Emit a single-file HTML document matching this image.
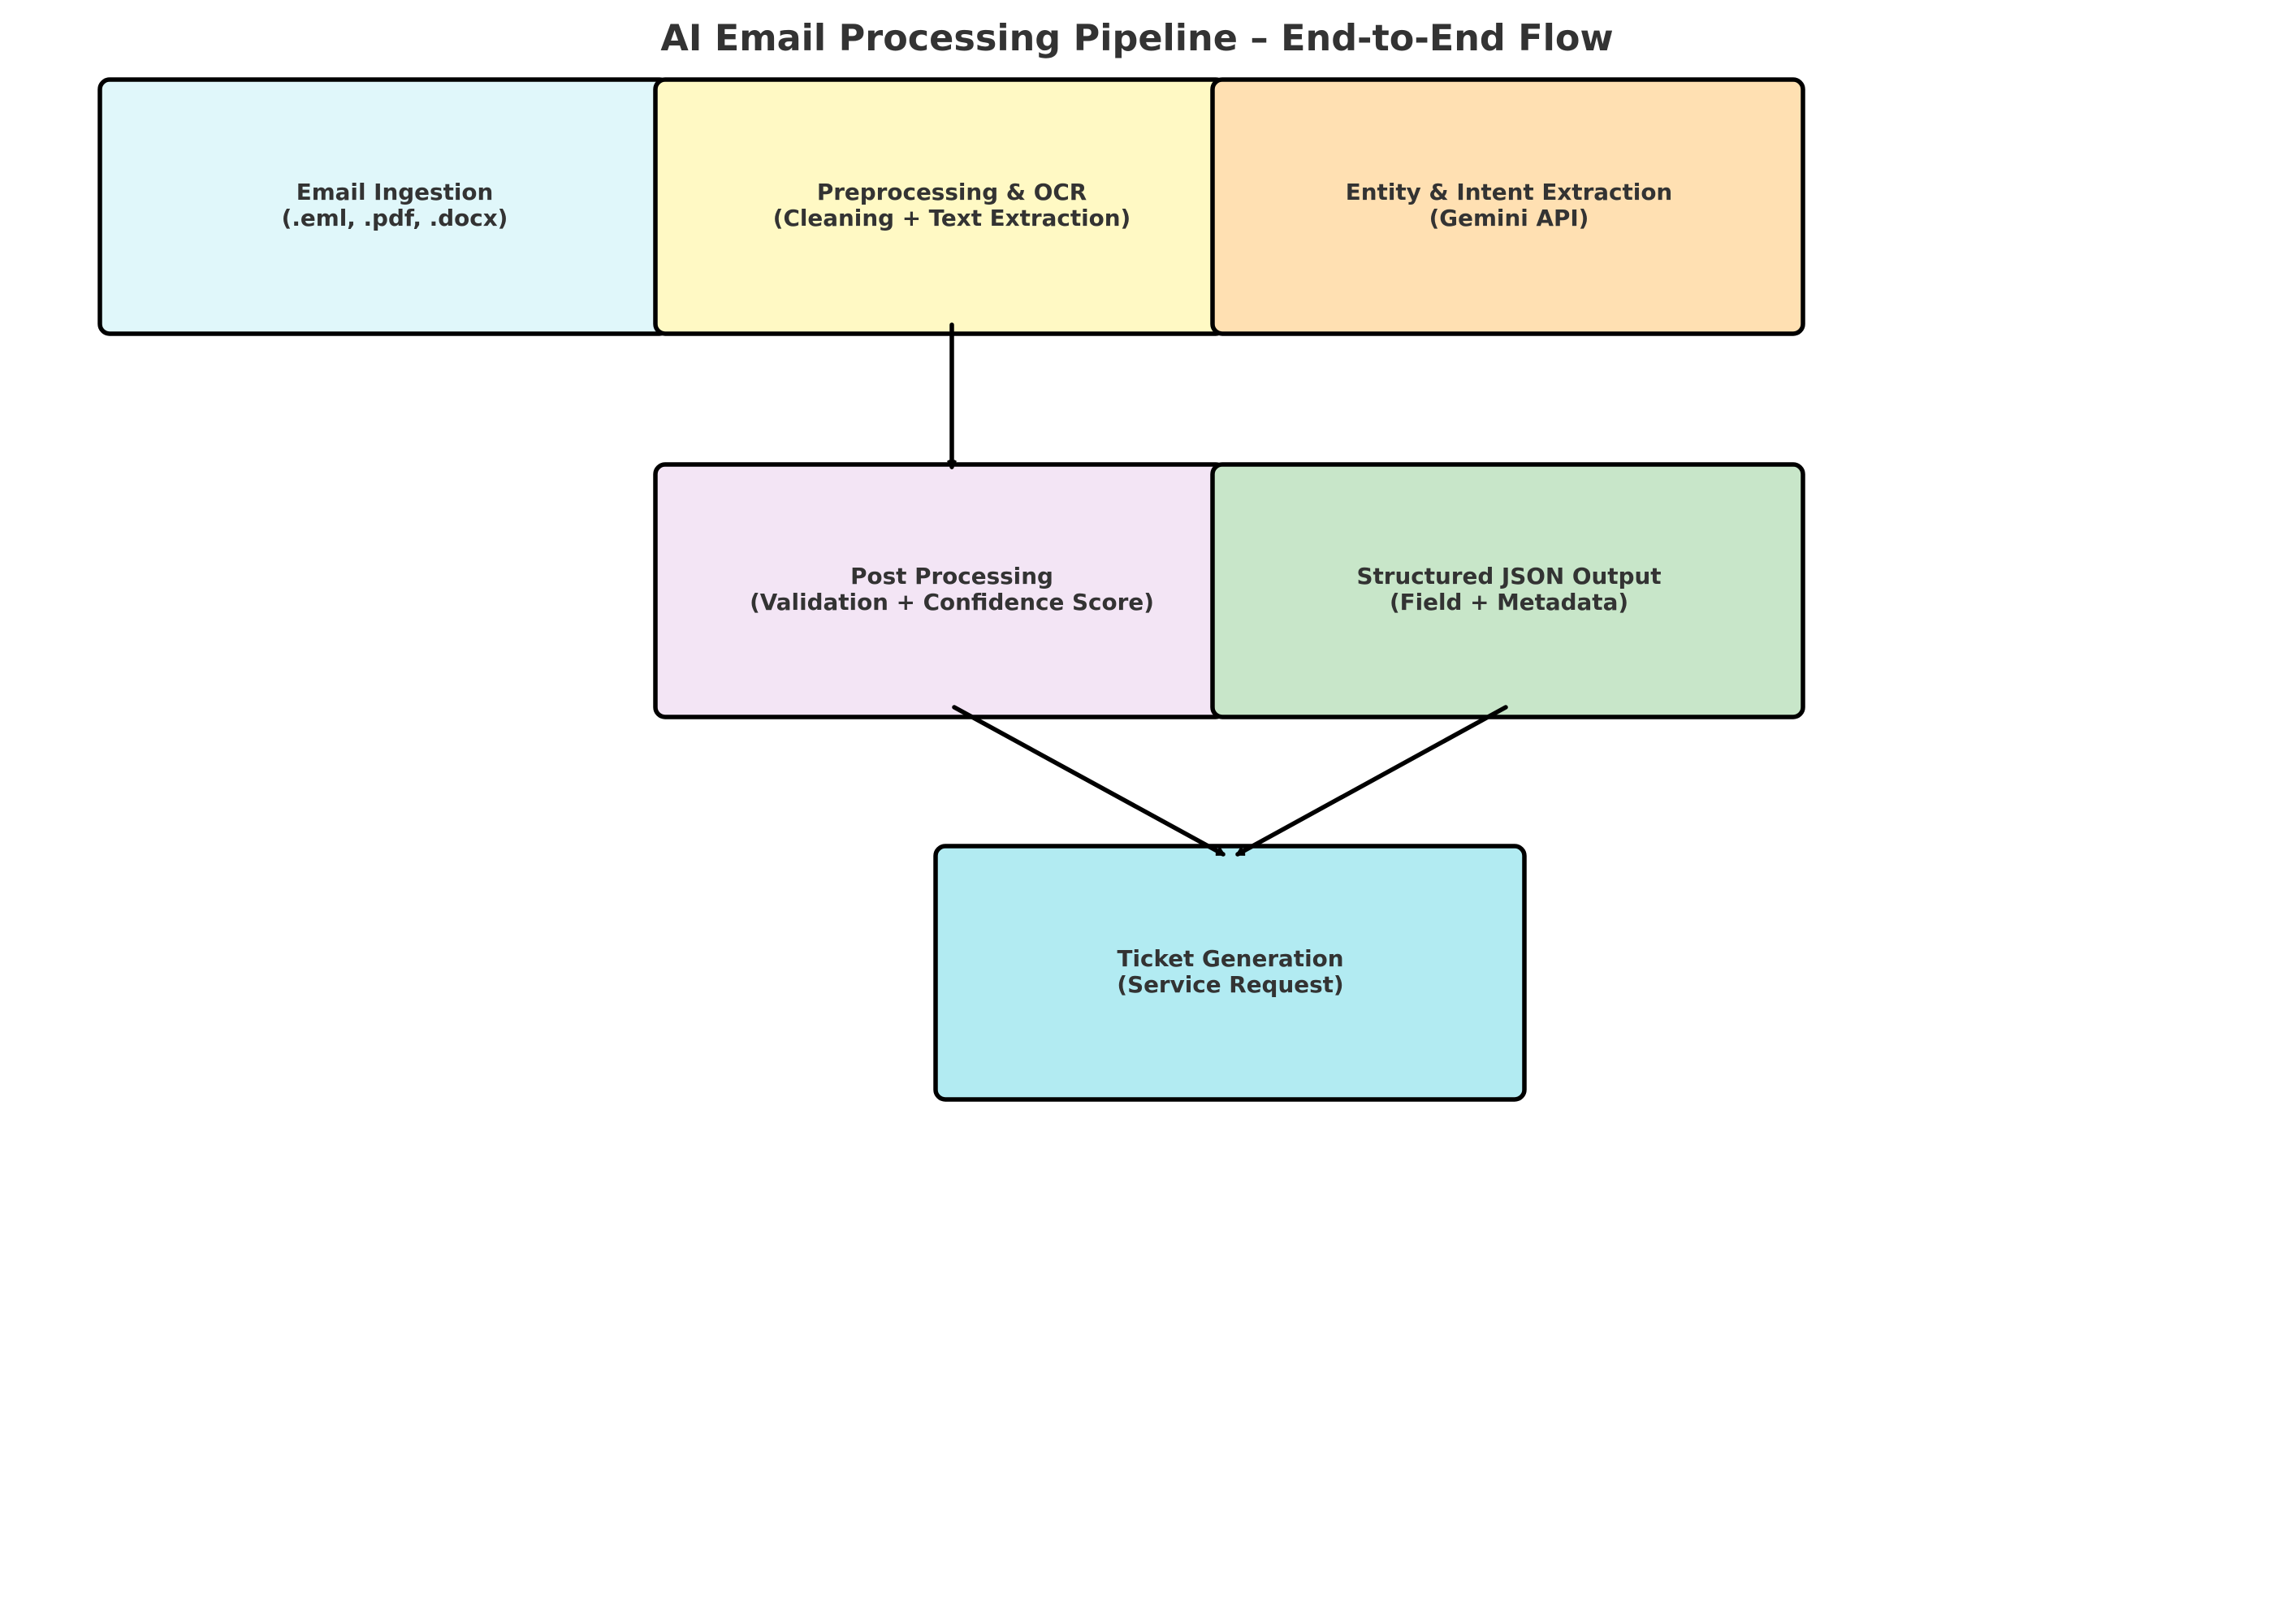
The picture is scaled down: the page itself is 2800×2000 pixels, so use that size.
<!DOCTYPE html>
<html><head><meta charset="utf-8"><style>
html,body{margin:0;padding:0;background:#fff;width:2800px;height:2000px;overflow:hidden}
</style></head><body>
<svg width="2800" height="2000" viewBox="0 0 2800 2000" xmlns="http://www.w3.org/2000/svg">
<defs>
<marker id="ah" markerWidth="12" markerHeight="12" refX="9" refY="6" orient="auto" markerUnits="userSpaceOnUse" viewBox="0 0 12 12">
<path d="M1,1.5 L9,6 L1,10.5" fill="none" stroke="#000" stroke-width="3.5"/>
</marker>
</defs>
<text x="1400" y="62" text-anchor="middle" font-family="DejaVu Sans, sans-serif" font-weight="bold" font-size="44.5" fill="#333">AI Email Processing Pipeline – End-to-End Flow</text>
<g stroke="#000" stroke-width="5.5">
<rect x="123" y="98" width="701" height="313" rx="12" fill="#e0f7fa"/>
<rect x="807" y="98" width="702" height="313" rx="12" fill="#fff9c4"/>
<rect x="1493" y="98" width="727" height="313" rx="12" fill="#ffe0b2"/>
<rect x="807" y="572" width="702" height="311" rx="12" fill="#f3e5f5"/>
<rect x="1493" y="572" width="727" height="311" rx="12" fill="#c8e6c9"/>
<rect x="1152" y="1042" width="725" height="312" rx="12" fill="#b2ebf2"/>
</g>
<g font-family="DejaVu Sans, sans-serif" font-weight="bold" font-size="27.8" fill="#333" text-anchor="middle">
<text x="486" y="246">Email Ingestion</text><text x="486" y="278">(.eml, .pdf, .docx)</text>
<text x="1172" y="246">Preprocessing &amp; OCR</text><text x="1172" y="278">(Cleaning + Text Extraction)</text>
<text x="1858" y="246">Entity &amp; Intent Extraction</text><text x="1858" y="278">(Gemini API)</text>
<text x="1172" y="719">Post Processing</text><text x="1172" y="751">(Validation + Confidence Score)</text>
<text x="1858" y="719">Structured JSON Output</text><text x="1858" y="751">(Field + Metadata)</text>
<text x="1515" y="1190">Ticket Generation</text><text x="1515" y="1222">(Service Request)</text>
</g>
<g stroke="#000" stroke-width="5.5" fill="none" stroke-linecap="round">
<line x1="1172" y1="400" x2="1172" y2="575" marker-end="url(#ah)"/>
<line x1="1175" y1="871" x2="1506" y2="1052" marker-end="url(#ah)"/>
<line x1="1854" y1="871" x2="1524" y2="1052" marker-end="url(#ah)"/>
</g>
</svg>
</body></html>
